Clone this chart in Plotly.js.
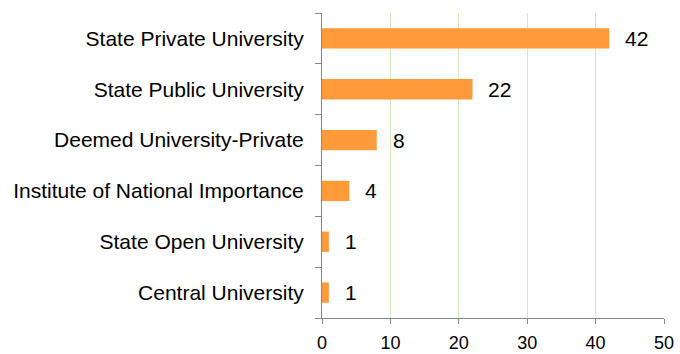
<!DOCTYPE html>
<html><head><meta charset="utf-8">
<script src="https://cdn.plot.ly/plotly-3.0.1.min.js"></script>
<style>body{margin:0;padding:0;background:#fff}</style>
</head><body>
<div id="chart" style="width:680px;height:354px"></div>
<script>
const categories = ["State Private University","State Public University","Deemed University-Private","Institute of National Importance","State Open University","Central University"];
const values = [42, 22, 8, 4, 1, 1];
const xTicks = [0, 10, 20, 30, 40, 50];

const trace = {
  type: 'bar', orientation: 'h',
  x: values, y: categories,
  marker: {color: '#FF9A3A', line: {width: 0}},
  hoverinfo: 'none'
};
const annotations = categories.map((c, i) => ({
  x: values[i], y: c, xref: 'x', yref: 'y',
  text: String(values[i]), showarrow: false,
  xanchor: 'left', xshift: 14,
  font: {family: 'Liberation Sans, Arial, sans-serif', size: 21, color: '#000'}
}));
const layout = {
  width: 680, height: 354,
  margin: {l: 322, r: 16, t: 13, b: 36},
  paper_bgcolor: '#fff', plot_bgcolor: '#fff',
  bargap: 0.6,
  showlegend: false,
  font: {family: 'Liberation Sans, Arial, sans-serif', size: 20, color: '#000'},
  xaxis: {
    range: [0, 50], tickvals: xTicks, ticktext: xTicks.map(String),
    showgrid: true, gridcolor: '#D7E9BE', gridwidth: 1,
    zeroline: false, showline: true, linecolor: '#868686', linewidth: 1,
    ticks: 'outside', ticklen: 5, tickcolor: '#868686',
    ticklabelstandoff: 3,
    tickfont: {size: 18}, fixedrange: true
  },
  yaxis: {
    type: 'category', categoryorder: 'array', categoryarray: categories.slice().reverse(),
    showline: true, linecolor: '#868686', linewidth: 1,
    ticks: 'outside', ticklen: 6, tickcolor: '#868686', tickson: 'boundaries',
    ticklabelstandoff: 13,
    showgrid: false, zeroline: false,
    tickfont: {size: 21}, fixedrange: true
  },
  annotations: annotations
};
Plotly.newPlot('chart', [trace], layout, {displayModeBar: false, staticPlot: true});
</script>
</body></html>
